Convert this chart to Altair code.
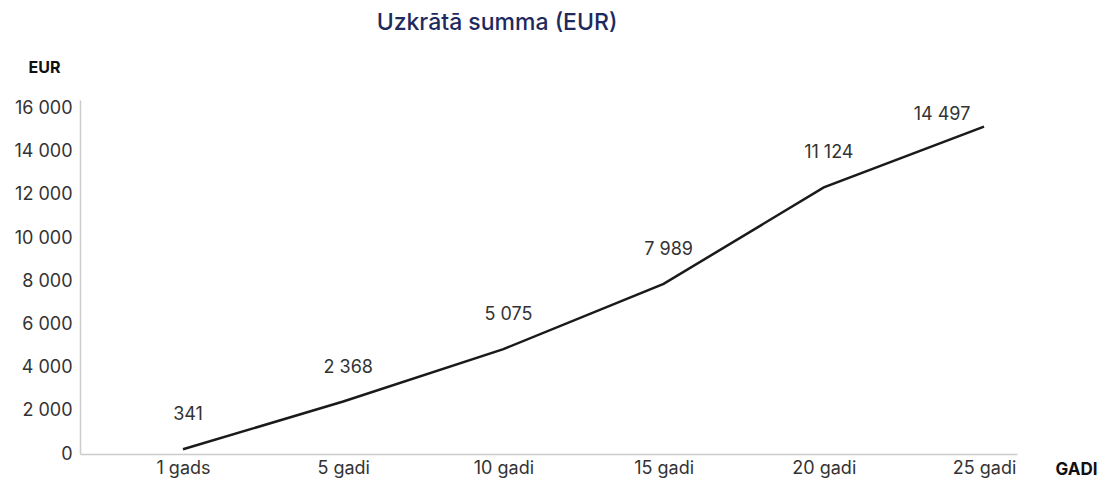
import altair as alt
import pandas as pd

categories = ["1 gads", "5 gadi", "10 gadi", "15 gadi", "20 gadi", "25 gadi"]
line_values = [220, 2430, 4860, 7880, 12350, 15170]
label_texts = ["341", "2 368", "5 075", "7 989", "11 124", "14 497"]
y_ticks = [0, 2000, 4000, 6000, 8000, 10000, 12000, 14000, 16000]
chart_title = "Uzkrātā summa (EUR)"

df = pd.DataFrame({"cat": categories, "val": line_values, "lab": label_texts,
                   "idx": list(range(len(categories)))})

FONT = "Inter"
TXT = "#333333"
cat_array = "[" + ",".join("'" + c + "'" for c in categories) + "]"

x_enc = alt.X("idx:Q",
              scale=alt.Scale(domain=[-0.643, 5.206], nice=False, zero=False),
              axis=alt.Axis(title="GADI", titleAngle=0, titleX=996, titleY=15,
                            titleAlign="center", titleBaseline="middle",
                            titleFont=FONT, titleFontSize=17, titleFontWeight="bold",
                            titleColor="#111111",
                            values=list(range(len(categories))),
                            labelExpr=cat_array + "[datum.value]",
                            labelAngle=0, labelFont=FONT, labelFontSize=18, labelColor=TXT,
                            labelPadding=5, ticks=False, domainColor="#cccccc",
                            domainWidth=1.5, grid=False, labelFlush=False))
y_enc = alt.Y("val:Q", scale=alt.Scale(domain=[0, 16400], nice=False, zero=True),
              axis=alt.Axis(title="EUR", titleAngle=0, titleX=-36, titleY=-33,
                            titleAlign="center", titleBaseline="middle",
                            titleFont=FONT, titleFontSize=16, titleFontWeight="bold",
                            titleColor="#111111",
                            values=y_ticks,
                            labelExpr="replace(format(datum.value, ','), ',', ' ')",
                            labelFont=FONT, labelFontSize=18, labelColor=TXT,
                            labelPadding=8, ticks=False, domainColor="#cccccc",
                            domainWidth=1.5, grid=False))

base = alt.Chart(df)
line = base.mark_line(color="#1a1a1a", strokeWidth=2.5).encode(x=x_enc, y=y_enc)
labels = base.transform_filter("datum.idx < 5").mark_text(
    font=FONT, fontSize=18, color=TXT, dx=5, dy=-34
).encode(x="idx:Q", y="val:Q", text="lab:N")
last_label = base.transform_filter("datum.idx == 5").mark_text(
    font=FONT, fontSize=18, color=TXT, dx=-42, dy=-12
).encode(x="idx:Q", y="val:Q", text="lab:N")
title = alt.Chart(pd.DataFrame({"t": [chart_title]})).mark_text(
    font=FONT, fontSize=23, fontWeight=500, color="#1e2a5e", baseline="middle"
).encode(x=alt.value(417), y=alt.value(-77), text="t:N")

chart = alt.layer(line, labels, last_label, title).properties(
    width=937, height=354,
    autosize=alt.AutoSizeParams(type="none"),
    padding={"left": 72, "top": 92, "right": 82, "bottom": 26},
).configure_view(stroke=None)

chart.save("out.html", embed_options={"renderer": "svg", "actions": False})
